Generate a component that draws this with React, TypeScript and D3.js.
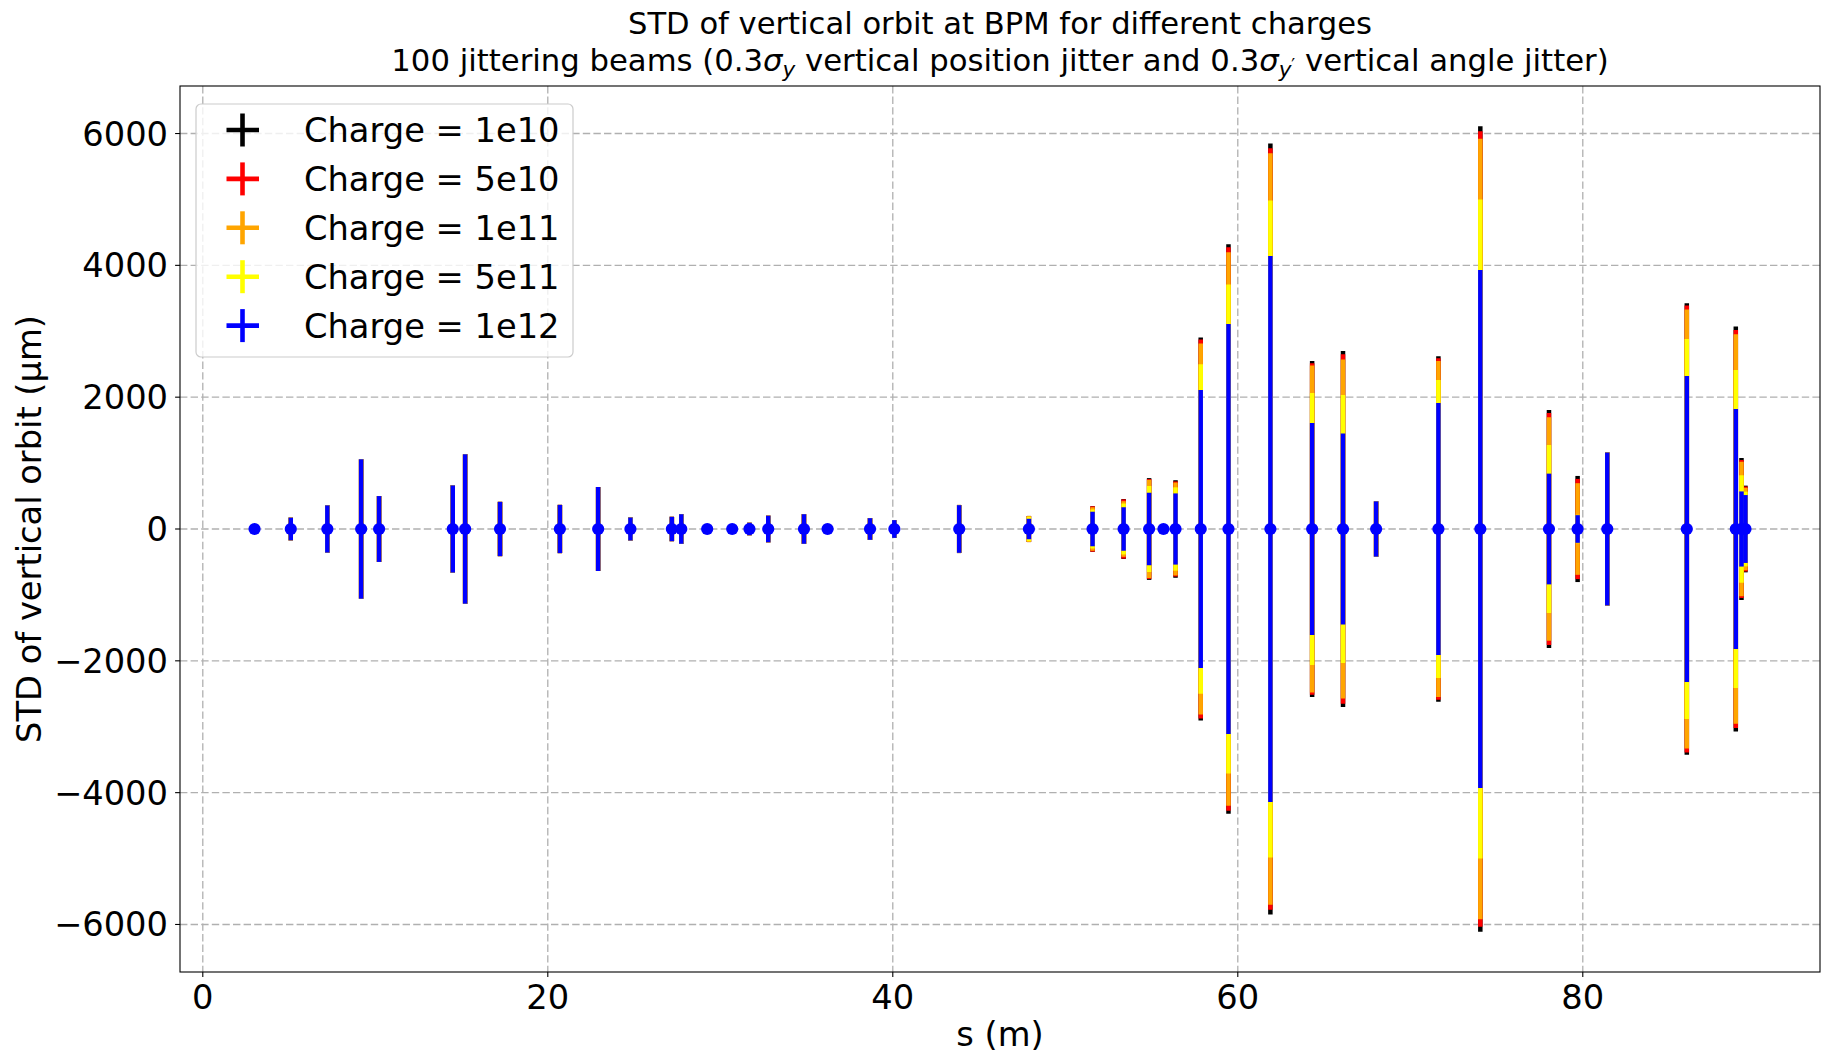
import React, { useEffect } from "react";
import * as d3 from "d3";

// BPM longitudinal positions s (m)
const sPositions = [
  3.0, 5.1, 7.22, 9.18, 10.22, 14.49, 15.21, 17.23, 20.7, 22.92, 24.79, 27.19, 27.74,
  29.24, 30.69, 31.69, 32.78, 34.85, 36.22, 38.68, 40.09, 43.85, 47.89, 51.58, 53.38,
  54.86, 55.69, 56.39, 57.85, 59.46, 61.89, 64.31, 66.1, 68.02, 71.63, 74.06, 78.04,
  79.7, 81.42, 86.03, 88.87, 89.2, 89.43,
];

// STD of vertical orbit (um) per charge
const std1e10 = [
  15, 172, 359, 1060, 500, 662, 1135, 412, 366, 637, 175, 185, 225,
  15, 15, 95, 202, 225, 15, 165, 135, 365, 198, 345, 455,
  772, 15, 740, 2904, 4320, 5850, 2550, 2700, 420, 2620, 6110, 1806,
  805, 1160, 3425, 3071, 1077, 658,
];
const std5e10 = [
  15, 172, 359, 1060, 500, 662, 1135, 412, 366, 637, 175, 185, 225,
  15, 15, 95, 202, 225, 15, 165, 135, 365, 198, 345, 450,
  758, 15, 722, 2874, 4275, 5777, 2514, 2651, 420, 2590, 6035, 1761,
  760, 1160, 3390, 3020, 1045, 645,
];
const std1e11 = [
  15, 172, 359, 1060, 500, 662, 1135, 412, 366, 637, 175, 185, 225,
  15, 15, 95, 202, 225, 15, 165, 135, 365, 198, 330, 422,
  745, 15, 705, 2815, 4200, 5700, 2479, 2570, 420, 2550, 5919, 1695,
  695, 1160, 3329, 2954, 1020, 625,
];
const std5e11 = [
  15, 172, 359, 1060, 500, 662, 1135, 412, 366, 637, 175, 185, 225,
  15, 15, 95, 202, 225, 15, 165, 135, 365, 185, 296, 387,
  652, 15, 632, 2500, 3710, 4985, 2064, 2034, 420, 2261, 4998, 1275,
  215, 1160, 2884, 2413, 815, 567,
];
const std1e12 = [
  15, 172, 359, 1060, 500, 662, 1135, 412, 366, 637, 175, 185, 225,
  15, 15, 95, 202, 225, 15, 165, 135, 362, 155, 262, 330,
  550, 15, 540, 2110, 3110, 4140, 1610, 1450, 420, 1910, 3930, 840,
  210, 1160, 2320, 1820, 570, 515,
];

const seriesLabels = ["Charge = 1e10", "Charge = 5e10", "Charge = 1e11", "Charge = 5e11", "Charge = 1e12"];
const seriesColors = ["#000000", "#ff0000", "#ffa500", "#ffff00", "#0000ff"];
const seriesValues = [std1e10, std5e10, std1e11, std5e11, std1e12];

const xTicks = [0, 20, 40, 60, 80];
const yTicks = [-6000, -4000, -2000, 0, 2000, 4000, 6000];

const FONT = "DejaVu Sans, sans-serif";

export default function App() {
  useEffect(() => {
    document.body.style.margin = "0";
  }, []);

  const W = 1821;
  const H = 1056;
  const L = 180, R = 1820, T = 86, B = 972;

  const [xmin, xmax] = d3.extent(sPositions) as [number, number];
  const xpad = 0.05 * (xmax - xmin);
  const x = d3.scaleLinear().domain([xmin - xpad, xmax + xpad]).range([L, R]);

  const ymaxv = d3.max(seriesValues, (v) => d3.max(v)) as number;
  const ypad = 0.05 * 2 * ymaxv;
  const y = d3.scaleLinear().domain([-ymaxv - ypad, ymaxv + ypad]).range([B, T]);

  const fs = 33.7;
  const gridColor = "#b0b0b0";

  const legendRows = seriesLabels.map((lab, i) => ({ lab, color: seriesColors[i], cy: 130 + i * 48.9 }));

  return (
    <svg width={W} height={H} style={{ position: "absolute", left: 0, top: 0, background: "#fff" }} fontFamily={FONT}>
      <rect x={0} y={0} width={W} height={H} fill="#fff" />
      {/* Title */}
      <text x={(L + R) / 2} y={34} textAnchor="middle" fontSize={30.6} fill="#000">
        STD of vertical orbit at BPM for different charges
      </text>
      <text x={(L + R) / 2} y={71} textAnchor="middle" fontSize={30.7} fill="#000">
        100 jittering beams (0.3
        <tspan fontStyle="italic">σ</tspan>
        <tspan fontStyle="italic" fontSize={21.5} dy={6}>y</tspan>
        <tspan dy={-6}> vertical position jitter and 0.3</tspan>
        <tspan fontStyle="italic">σ</tspan>
        <tspan fontStyle="italic" fontSize={21.5} dy={6}>y</tspan>
        <tspan fontSize={17} dy={-6}>′</tspan>
        <tspan dy={0}> vertical angle jitter)</tspan>
      </text>

      {/* Grid */}
      <g>
        {xTicks.map((t) => (
          <line key={"gx" + t} x1={x(t)} x2={x(t)} y1={T} y2={B} stroke={gridColor} strokeWidth={1.3} strokeDasharray="7.4,3.2" />
        ))}
        {yTicks.map((t) => (
          <line key={"gy" + t} x1={L} x2={R} y1={y(t)} y2={y(t)} stroke={gridColor} strokeWidth={1.3} strokeDasharray="7.4,3.2" />
        ))}
      </g>

      {/* Error bars */}
      <g>
        {seriesValues.map((vals, si) => (
          <g key={"s" + si}>
            {vals.map((v, i) => (
              <line
                key={i}
                x1={x(sPositions[i])}
                x2={x(sPositions[i])}
                y1={y(-v)}
                y2={y(v)}
                stroke={seriesColors[si]}
                strokeWidth={4.5}
                strokeLinecap="butt"
              />
            ))}
          </g>
        ))}
      </g>
      {/* Markers */}
      <g>
        {sPositions.map((s, i) => (
          <circle key={"m" + i} cx={x(s)} cy={y(0)} r={6.1} fill="#0000ff" />
        ))}
      </g>

      {/* Axes frame */}
      <rect x={L} y={T} width={R - L} height={B - T} fill="none" stroke="#000" strokeWidth={1.1} />

      {/* X ticks */}
      {xTicks.map((t) => (
        <g key={"xt" + t}>
          <line x1={x(t)} x2={x(t)} y1={B} y2={B + 4.9} stroke="#000" strokeWidth={1.1} />
          <text x={x(t)} y={1009} textAnchor="middle" fontSize={fs} fill="#000">
            {t}
          </text>
        </g>
      ))}
      {/* Y ticks */}
      {yTicks.map((t) => (
        <g key={"yt" + t}>
          <line x1={L - 4.9} x2={L} y1={y(t)} y2={y(t)} stroke="#000" strokeWidth={1.1} />
          <text x={168} y={y(t) + 12} textAnchor="end" fontSize={fs} fill="#000">
            {t < 0 ? "\u2212" + Math.abs(t) : String(t)}
          </text>
        </g>
      ))}

      {/* Axis labels */}
      <text x={(L + R) / 2} y={1046} textAnchor="middle" fontSize={fs} fill="#000">
        s (m)
      </text>
      <text transform={`translate(41, ${(T + B) / 2}) rotate(-90)`} textAnchor="middle" fontSize={fs} fill="#000">
        STD of vertical orbit (μm)
      </text>

      {/* Legend */}
      <g>
        <rect x={196} y={104} width={377} height={253} rx={5} ry={5} fill="#fff" fillOpacity={0.8} stroke="#cccccc" strokeWidth={1.2} />
        {legendRows.map((r, i) => (
          <g key={"lg" + i}>
            <line x1={226.5} x2={259} y1={r.cy} y2={r.cy} stroke={r.color} strokeWidth={4.6} />
            <line x1={242.5} x2={242.5} y1={r.cy - 16.5} y2={r.cy + 16.5} stroke={r.color} strokeWidth={4.6} />
            <text x={304} y={r.cy + 12.3} fontSize={fs} fill="#000">
              {r.lab}
            </text>
          </g>
        ))}
      </g>
    </svg>
  );
}
